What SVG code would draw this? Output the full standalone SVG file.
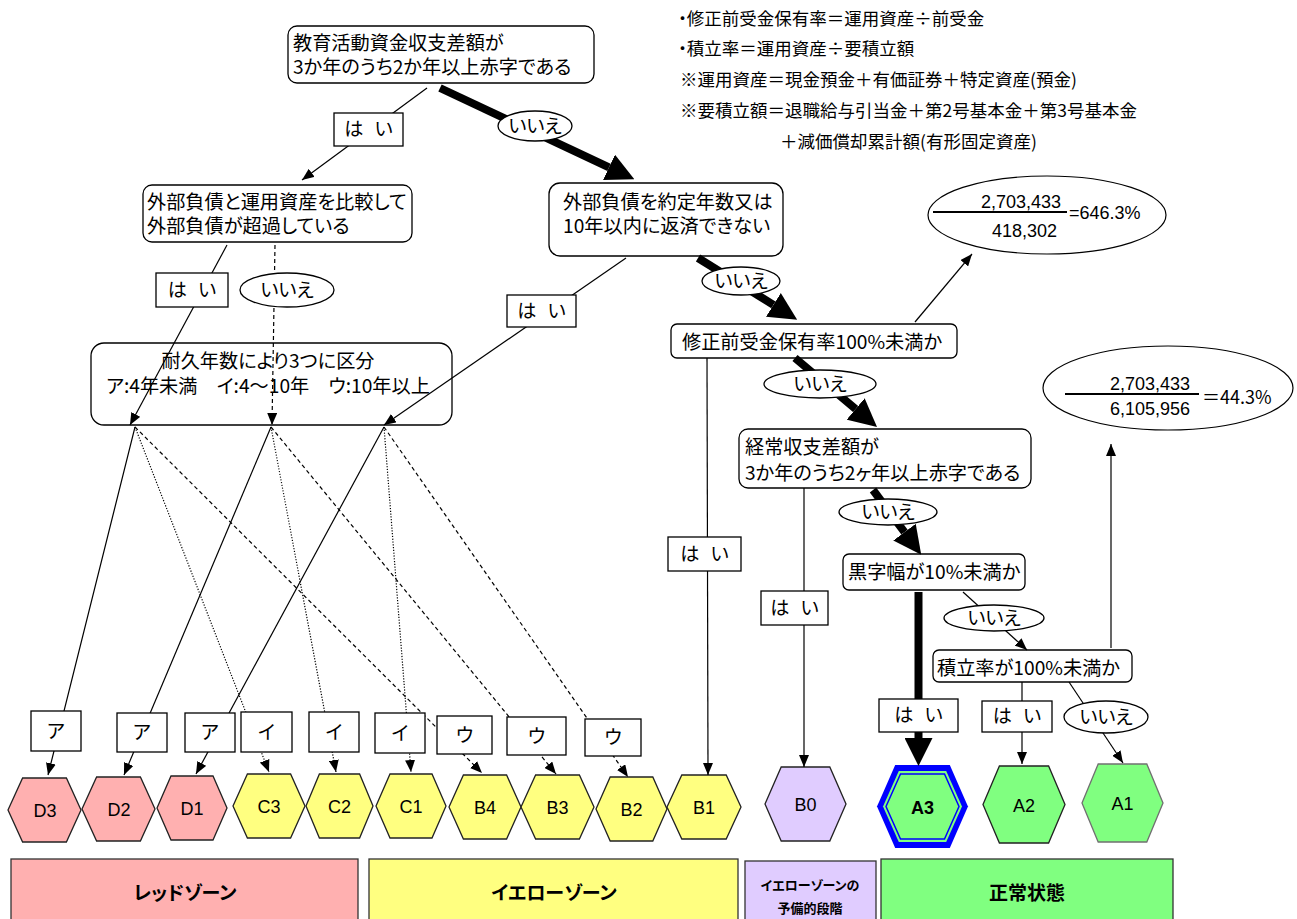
<svg xmlns="http://www.w3.org/2000/svg" width="1297" height="919" viewBox="0 0 1297 919">
<style>
text{font-family:"Noto Sans CJK JP","Noto Sans CJK SC",sans-serif;fill:#000;font-feature-settings:"palt";}
.t{font-size:19.2px;}
.n{font-size:17.5px;}
.yes{word-spacing:7px;}
.lat{font-family:"Liberation Sans",Arial,sans-serif;font-feature-settings:normal;font-size:18px;}
.box{fill:#fff;stroke:#000;stroke-width:1.3;}
.lab{fill:#fff;stroke:#000;stroke-width:1.3;}
.ln{stroke:#000;stroke-width:1.2;fill:none;}
.dot{stroke-dasharray:1.2 1.6;}
.dash{stroke-dasharray:4 3;}
.thick{stroke:#000;stroke-width:8;fill:none;}
.hexD{fill:#FFB0B0;stroke:#222;stroke-width:1.3;}
.hexY{fill:#FFFF80;stroke:#222;stroke-width:1.3;}
.hexP{fill:#E0CCFF;stroke:#222;stroke-width:1.3;}
.hexG{fill:#80FF80;stroke:#222;stroke-width:1.3;}
.mid{text-anchor:middle;}
.zone{font-weight:bold;font-size:19px;text-anchor:middle;}
</style>
<defs>
<marker id="ah" viewBox="0 0 12 10" refX="12" refY="5" markerWidth="12" markerHeight="10" markerUnits="userSpaceOnUse" orient="auto"><path d="M0,0 L12,5 L0,10 z" fill="#000"/></marker>
<marker id="big" viewBox="0 0 28 28" refX="0" refY="14" markerWidth="28" markerHeight="28" markerUnits="userSpaceOnUse" orient="auto"><path d="M0,0 L28,14 L0,28 z" fill="#000"/></marker>
</defs>
<rect width="1297" height="919" fill="#fff"/>

<g id="notes" class="n">
<text x="678" y="25">・修正前受金保有率＝運用資産÷前受金</text>
<text x="678" y="55">・積立率＝運用資産÷要積立額</text>
<text x="680" y="86">※運用資産＝現金預金＋有価証券＋特定資産(預金)</text>
<text x="680" y="117">※要積立額＝退職給与引当金＋第2号基本金＋第3号基本金</text>
<text x="780" y="148">＋減価償却累計額(有形固定資産)</text>
</g>

<g id="n-top"><rect class="box" x="288" y="26" width="306" height="57" rx="9"/>
<text class="t" x="293" y="50">教育活動資金収支差額が</text><text class="t" x="293" y="74">3か年のうち2か年以上赤字である</text></g>
<g id="n-debt"><rect class="box" x="143" y="185" width="269" height="57" rx="9"/>
<text class="t" x="147" y="209">外部負債と運用資産を比較して</text><text class="t" x="147" y="233">外部負債が超過している</text></g>
<g id="n-life"><rect class="box" x="91" y="343" width="361" height="82" rx="13"/>
<text class="t mid" x="268" y="368">耐久年数により3つに区分</text><text class="t mid" x="268" y="393">ア:4年未満　イ:4～10年　ウ:10年以上</text></g>
<g id="n-repay"><rect class="box" x="549" y="183" width="234" height="73" rx="11"/>
<text class="t" x="563" y="209">外部負債を約定年数又は</text><text class="t" x="563" y="233">10年以内に返済できない</text></g>
<g id="n-pre"><rect class="box" x="671" y="324" width="286" height="34" rx="6"/>
<text class="t" x="682" y="349">修正前受金保有率100%未満か</text></g>
<g id="n-ord"><rect class="box" x="739" y="429" width="292" height="59" rx="9"/>
<text class="t" x="745" y="454">経常収支差額が</text><text class="t" x="745" y="480">3か年のうち2ヶ年以上赤字である</text></g>
<g id="n-surplus"><rect class="box" x="843" y="554" width="182" height="36" rx="6"/>
<text class="t" x="848" y="579">黒字幅が10%未満か</text></g>
<g id="n-reserve"><rect class="box" x="933" y="650" width="199" height="32" rx="6"/>
<text class="t" x="937" y="675">積立率が100%未満か</text></g>

<g id="r1"><ellipse cx="1047" cy="215" rx="119" ry="39" fill="#fff" stroke="#000" stroke-width="1.2"/>
<line x1="933" y1="212" x2="1067" y2="212" stroke="#000" stroke-width="2"/>
<text class="lat" x="1061" y="208" text-anchor="end">2,703,433</text>
<text class="lat" x="1057" y="237" text-anchor="end">418,302</text>
<text class="lat" x="1069" y="219">=646.3%</text></g>
<g id="r2"><ellipse cx="1168" cy="388" rx="125" ry="42" fill="#fff" stroke="#000" stroke-width="1.2"/>
<line x1="1065" y1="394" x2="1199" y2="394" stroke="#000" stroke-width="2"/>
<text class="lat mid" x="1150" y="390">2,703,433</text>
<text class="lat mid" x="1150" y="415">6,105,956</text>
<text x="1202" y="404" style="font-size:18px">＝44.3%</text></g>

<g id="hexes">
<g id="D3"><polygon class="hexD" points="8,810 22.6,778 66.4,778 81,810 66.4,842 22.6,842"/><text class="lat mid" x="45" y="817">D3</text></g>
<g id="D2"><polygon class="hexD" points="82,809 96.6,777 140.4,777 155,809 140.4,841 96.6,841"/><text class="lat mid" x="119" y="816">D2</text></g>
<g id="D1"><polygon class="hexD" points="157,808 171,776 213,776 227,808 213,840 171,840"/><text class="lat mid" x="192" y="815">D1</text></g>
<g id="C3"><polygon class="hexY" points="233,806 247.4,774 290.6,774 305,806 290.6,838 247.4,838"/><text class="lat mid" x="269" y="813">C3</text></g>
<g id="C2"><polygon class="hexY" points="306,806 319.4,774 359.6,774 373,806 359.6,838 319.4,838"/><text class="lat mid" x="339.5" y="813">C2</text></g>
<g id="C1"><polygon class="hexY" points="376,806 390,774 432,774 446,806 432,838 390,838"/><text class="lat mid" x="411" y="813">C1</text></g>
<g id="B4"><polygon class="hexY" points="449,807 463.4,775 506.6,775 521,807 506.6,839 463.4,839"/><text class="lat mid" x="485" y="814">B4</text></g>
<g id="B3"><polygon class="hexY" points="521,807 535.6,775 579.4,775 594,807 579.4,839 535.6,839"/><text class="lat mid" x="557.5" y="814">B3</text></g>
<g id="B2"><polygon class="hexY" points="596,809 610.2,777 652.8,777 667,809 652.8,841 610.2,841"/><text class="lat mid" x="631.5" y="816">B2</text></g>
<g id="B1"><polygon class="hexY" points="667,807 681.8,775 726.2,775 741,807 726.2,839 681.8,839"/><text class="lat mid" x="704" y="814">B1</text></g>
<g id="B0"><polygon class="hexP" points="765,804 781.2,767 829.8,767 846,804 829.8,841 781.2,841"/><text class="lat mid" x="805.5" y="811">B0</text></g>
<g id="A3"><polygon fill="#0000FF" points="877,806.5 895.2,765 949.8,765 968,806.5 949.8,848 895.2,848"/>
<polygon fill="#80FF80" points="883,806.5 898.8,771 946.2,771 962,806.5 946.2,842 898.8,842"/>
<polygon fill="#80FF80" stroke="#0000FF" stroke-width="1.5" points="886,806.5 900.5,774 944.5,774 959,806.5 944.5,839 900.5,839"/>
<text class="lat mid" x="922.5" y="813.5" font-weight="bold">A3</text></g>
<g id="A2"><polygon class="hexG" points="983,804.5 999.4,766 1048.6,766 1065,804.5 1048.6,843 999.4,843"/><text class="lat mid" x="1024" y="811.5">A2</text></g>
<g id="A1"><polygon fill="#80FF80" stroke="#707070" stroke-width="1.3" points="1082,803 1098.2,764 1146.8,764 1163,803 1146.8,842 1098.2,842"/><text class="lat mid" x="1122.5" y="810">A1</text></g>
</g>

<g id="zones">
<g id="z-red"><rect x="11" y="859" width="347" height="70" fill="#FFB0B0" stroke="#333" stroke-width="1.3"/><text class="zone" x="185" y="900">レッドゾーン</text></g>
<g id="z-yellow"><rect x="369" y="859" width="369" height="70" fill="#FFFF80" stroke="#333" stroke-width="1.3"/><text class="zone" x="554" y="900">イエローゾーン</text></g>
<g id="z-pre"><rect x="745" y="861" width="131" height="68" fill="#E0CCFF" stroke="#333" stroke-width="1.3"/><text x="810" y="890" text-anchor="middle" font-weight="bold" font-size="13">イエローゾーンの</text><text x="810" y="913" text-anchor="middle" font-weight="bold" font-size="13">予備的段階</text></g>
<g id="z-green"><rect x="881" y="859" width="292" height="70" fill="#80FF80" stroke="#333" stroke-width="1.3"/><text class="zone" x="1027" y="900">正常状態</text></g>
</g>

<g id="connectors">
<line class="ln" x1="427" y1="88" x2="302" y2="180" marker-end="url(#ah)"/>
<line class="thick" x1="440" y1="88" x2="609" y2="167.3" marker-end="url(#big)"/>
<line class="ln" x1="227" y1="245" x2="130" y2="425" marker-end="url(#ah)"/>
<line class="ln dash" x1="275" y1="245" x2="272" y2="425" marker-end="url(#ah)"/>
<line class="ln" x1="626" y1="258" x2="384" y2="425" marker-end="url(#ah)"/>
<line class="thick" x1="698" y1="258" x2="773.4" y2="304.9" marker-end="url(#big)"/>
<line class="ln" x1="915" y1="322" x2="972" y2="254" marker-end="url(#ah)"/>
<line class="ln" x1="707" y1="358" x2="708" y2="775" marker-end="url(#ah)"/>
<line class="thick" x1="795" y1="358" x2="855.6" y2="409" marker-end="url(#big)"/>
<line class="ln" x1="804" y1="488" x2="804" y2="767" marker-end="url(#ah)"/>
<line class="thick" x1="873" y1="490" x2="904.5" y2="532.2" marker-end="url(#big)"/>
<line class="thick" x1="918.5" y1="592" x2="918.5" y2="738" stroke-width="9" marker-end="url(#big)"/>
<line class="ln" x1="963" y1="592" x2="1027" y2="650" marker-end="url(#ah)"/>
<line class="ln" x1="1022" y1="682" x2="1022" y2="764" marker-end="url(#ah)"/>
<line class="ln" x1="1069" y1="682" x2="1123" y2="763" marker-end="url(#ah)"/>
<line class="ln" x1="1111" y1="648" x2="1111" y2="444" marker-end="url(#ah)"/>
<line class="ln" x1="135" y1="427" x2="48" y2="775" marker-end="url(#ah)"/>
<line class="ln" x1="271" y1="427" x2="124" y2="775" marker-end="url(#ah)"/>
<line class="ln" x1="384" y1="427" x2="196" y2="774" marker-end="url(#ah)"/>
<line class="ln dot" x1="135" y1="427" x2="269" y2="772" marker-end="url(#ah)"/>
<line class="ln dot" x1="271" y1="427" x2="336" y2="772" marker-end="url(#ah)"/>
<line class="ln dot" x1="384" y1="427" x2="411" y2="772" marker-end="url(#ah)"/>
<line class="ln dash" x1="135" y1="427" x2="482" y2="773" marker-end="url(#ah)"/>
<line class="ln dash" x1="271" y1="427" x2="556" y2="774" marker-end="url(#ah)"/>
<line class="ln dash" x1="384" y1="427" x2="628" y2="777" marker-end="url(#ah)"/>
</g>

<g id="labels">
<g id="l-yes1"><rect class="lab" x="334" y="113" width="69" height="33"/><text class="t mid yes" x="368.5" y="136">は い</text></g>
<g id="l-no1"><ellipse class="lab" cx="535" cy="126" rx="37" ry="15"/><text class="t mid" x="535" y="133">いいえ</text></g>
<g id="l-yes2"><rect class="lab" x="156" y="273" width="72" height="34"/><text class="t mid yes" x="192" y="297">は い</text></g>
<g id="l-no2"><ellipse class="lab" cx="287" cy="290" rx="47" ry="17"/><text class="t mid" x="287" y="297">いいえ</text></g>
<g id="l-yes3"><rect class="lab" x="507" y="295" width="69" height="32"/><text class="t mid yes" x="541.5" y="318">は い</text></g>
<g id="l-no3"><ellipse class="lab" cx="741" cy="281" rx="39" ry="14"/><text class="t mid" x="741" y="288">いいえ</text></g>
<g id="l-no4"><ellipse class="lab" cx="820" cy="384" rx="56" ry="14"/><text class="t mid" x="820" y="391">いいえ</text></g>
<g id="l-yes4"><rect class="lab" x="668" y="537" width="73" height="34"/><text class="t mid yes" x="704.5" y="561">は い</text></g>
<g id="l-no5"><ellipse class="lab" cx="888" cy="512" rx="49" ry="13"/><text class="t mid" x="888" y="519">いいえ</text></g>
<g id="l-yes5"><rect class="lab" x="761" y="591" width="67" height="34"/><text class="t mid yes" x="794.5" y="615">は い</text></g>
<g id="l-no6"><ellipse class="lab" cx="994" cy="618" rx="50" ry="13"/><text class="t mid" x="994" y="625">いいえ</text></g>
<g id="l-yes6"><rect class="lab" x="879" y="699" width="79" height="33"/><text class="t mid yes" x="918.5" y="722">は い</text></g>
<g id="l-yes7"><rect class="lab" x="982" y="701" width="70" height="31"/><text class="t mid yes" x="1017" y="723">は い</text></g>
<g id="l-no7"><ellipse class="lab" cx="1106" cy="717" rx="42" ry="16"/><text class="t mid" x="1106" y="724">いいえ</text></g>
<g id="l-a1"><rect class="lab" x="31" y="711" width="50" height="40"/><text class="t mid" x="56" y="738">ア</text></g>
<g id="l-a2"><rect class="lab" x="117" y="713" width="50" height="39"/><text class="t mid" x="142" y="739">ア</text></g>
<g id="l-a3"><rect class="lab" x="185" y="713" width="50" height="39"/><text class="t mid" x="210" y="739">ア</text></g>
<g id="l-i1"><rect class="lab" x="241" y="712" width="51" height="40"/><text class="t mid" x="266.5" y="739">イ</text></g>
<g id="l-i2"><rect class="lab" x="309" y="712" width="50" height="40"/><text class="t mid" x="334" y="739">イ</text></g>
<g id="l-i3"><rect class="lab" x="375" y="713" width="50" height="40"/><text class="t mid" x="400" y="740">イ</text></g>
<g id="l-u1"><rect class="lab" x="437" y="716" width="55" height="38"/><text class="t mid" x="464.5" y="742">ウ</text></g>
<g id="l-u2"><rect class="lab" x="507" y="717" width="59" height="38"/><text class="t mid" x="536.5" y="743">ウ</text></g>
<g id="l-u3"><rect class="lab" x="585" y="719" width="56" height="37"/><text class="t mid" x="613" y="744">ウ</text></g>
</g>
</svg>
